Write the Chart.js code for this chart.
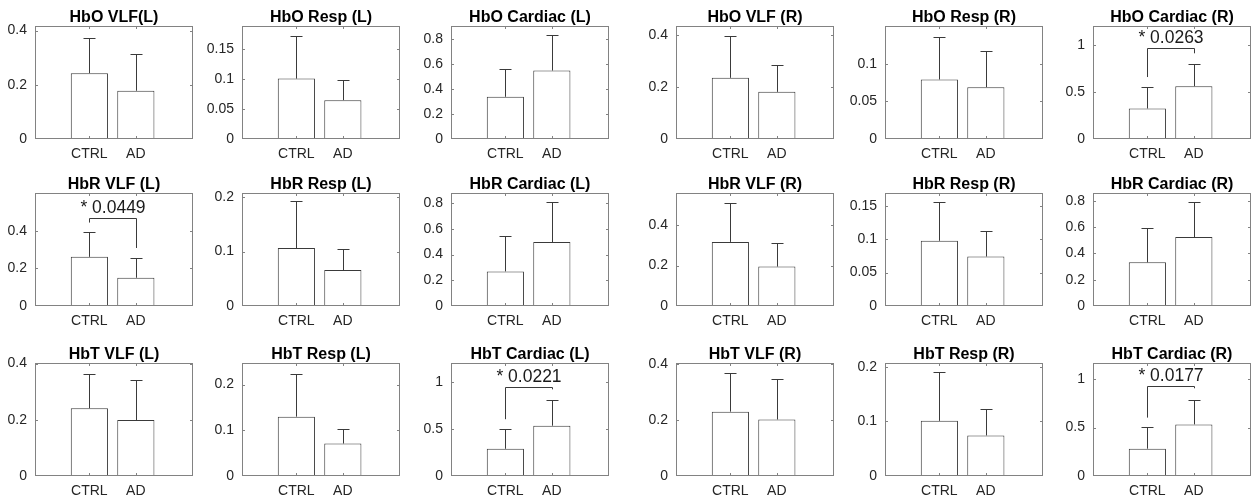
<!DOCTYPE html>
<html>
<head>
<meta charset="utf-8">
<script src="https://cdn.jsdelivr.net/npm/chart.js@4.4.1/dist/chart.umd.min.js"></script>
<style>
  html, body { margin: 0; padding: 0; background: #fff; }
  #wrap { position: relative; width: 1254px; height: 495px; overflow: hidden; }
  #wrap canvas { position: absolute; }
</style>
</head>
<body>
<div id="wrap"></div>
<script>
// ── data (row-major: HbO / HbR / HbT, columns VLF, Resp, Cardiac for L then R) ──
const groups = ['CTRL', 'AD'];

const titles = [
  'HbO VLF(L)', 'HbO Resp (L)', 'HbO Cardiac (L)', 'HbO VLF (R)', 'HbO Resp (R)', 'HbO Cardiac (R)',
  'HbR VLF (L)', 'HbR Resp (L)', 'HbR Cardiac (L)', 'HbR VLF (R)', 'HbR Resp (R)', 'HbR Cardiac (R)',
  'HbT VLF (L)', 'HbT Resp (L)', 'HbT Cardiac (L)', 'HbT VLF (R)', 'HbT Resp (R)', 'HbT Cardiac (R)',
];

const ctrlMean = [0.243, 0.101, 0.339, 0.235, 0.079, 0.324,
                  0.261, 0.1065, 0.269, 0.317, 0.0975, 0.332,
                  0.241, 0.1297, 0.289, 0.230, 0.101, 0.282];
const ctrlSd   = [0.131, 0.072, 0.222, 0.159, 0.057, 0.226,
                  0.132, 0.0855, 0.272, 0.195, 0.0575, 0.264,
                  0.123, 0.0937, 0.209, 0.140, 0.089, 0.223];
const adMean   = [0.178, 0.065, 0.550, 0.181, 0.0688, 0.561,
                  0.150, 0.066, 0.497, 0.195, 0.074, 0.524,
                  0.199, 0.071, 0.534, 0.202, 0.0743, 0.533];
const adSd     = [0.135, 0.034, 0.283, 0.105, 0.048, 0.238,
                  0.106, 0.039, 0.308, 0.119, 0.0385, 0.264,
                  0.141, 0.0316, 0.275, 0.146, 0.0477, 0.251];

const yMax = [0.417, 0.189, 0.908, 0.434, 0.150, 1.2,
              0.600, 0.2075, 0.878, 0.559, 0.169, 0.859,
              0.402, 0.247, 1.2, 0.404, 0.207, 1.167];

const yTicks = [
  [0, 0.2, 0.4], [0, 0.05, 0.1, 0.15], [0, 0.2, 0.4, 0.6, 0.8], [0, 0.2, 0.4], [0, 0.05, 0.1], [0, 0.5, 1],
  [0, 0.2, 0.4], [0, 0.1, 0.2], [0, 0.2, 0.4, 0.6, 0.8], [0, 0.2, 0.4], [0, 0.05, 0.1, 0.15], [0, 0.2, 0.4, 0.6, 0.8],
  [0, 0.2, 0.4], [0, 0.1, 0.2], [0, 0.5, 1], [0, 0.2, 0.4], [0, 0.1, 0.2], [0, 0.5, 1],
];

// significance brackets
const sigPanel   = [5, 6, 14, 17];
const sigText    = ['* 0.0263', '* 0.0449', '* 0.0221', '* 0.0177'];
const sigLineY   = [0.964, 0.467, 0.949, 0.930];
const sigCtrlLeg = [0.658, 0.443, 0.603, 0.603];
const sigAdLeg   = [0.910, 0.308, 0.920, 0.906];

// ── layout ──
const colLeft = [35, 242, 451, 676, 885, 1093];
const rowTop = [26, 193, 363];
const BOX_W = 158, BOX_H = 113;
const PAD_L = 35, PAD_T = 26, PAD_R = 4, PAD_B = 28;

const AXIS_GREY = '#828282';
const LINE_DARK = '#3a3a3a';
const FONT = '"Liberation Sans", Arial, sans-serif';

Chart.defaults.font.family = FONT;
Chart.defaults.color = '#262626';

const boxPlugin = {
  id: 'matlabBox',
  afterDatasetsDraw(chart, args, opts) {
    const { ctx, chartArea: a, scales } = chart;
    const i = opts.idx;
    const xs = scales.x, ys = scales.y;

    // error bars (upper only)
    ctx.save();
    ctx.strokeStyle = LINE_DARK;
    ctx.lineWidth = 1;
    [[ctrlMean[i], ctrlSd[i]], [adMean[i], adSd[i]]].forEach(([m, sd], j) => {
      const x = Math.round(xs.getPixelForValue(j + 1)) + 0.5;
      const y0 = ys.getPixelForValue(m);
      const y1 = Math.round(ys.getPixelForValue(m + sd)) + 0.5;
      ctx.beginPath();
      ctx.moveTo(x, y0);
      ctx.lineTo(x, y1);
      ctx.moveTo(x - 6, y1);
      ctx.lineTo(x + 6, y1);
      ctx.stroke();
    });

    // significance bracket
    const k = sigPanel.indexOf(i);
    if (k >= 0) {
      const xc = Math.round(xs.getPixelForValue(1)) + 0.5;
      const xa = Math.round(xs.getPixelForValue(2)) + 0.5;
      const yl = Math.round(ys.getPixelForValue(sigLineY[k])) + 0.5;
      ctx.beginPath();
      ctx.moveTo(xc, ys.getPixelForValue(sigCtrlLeg[k]));
      ctx.lineTo(xc, yl);
      ctx.lineTo(xa, yl);
      ctx.lineTo(xa, ys.getPixelForValue(sigAdLeg[k]));
      ctx.stroke();
      ctx.fillStyle = '#1a1a1a';
      ctx.font = '17.5px ' + FONT;
      ctx.textAlign = 'center';
      ctx.textBaseline = 'middle';
      ctx.fillText(sigText[k], (xc + xa) / 2, yl - 10);
    }

    // axes box with inward ticks
    ctx.strokeStyle = AXIS_GREY;
    ctx.strokeRect(a.left + 0.5, a.top + 0.5, a.right - a.left - 1, a.bottom - a.top - 1);
    ctx.beginPath();
    yTicks[i].forEach(v => {
      if (v === 0) return;
      const y = Math.round(ys.getPixelForValue(v)) + 0.5;
      ctx.moveTo(a.left, y); ctx.lineTo(a.left + 3, y);
      ctx.moveTo(a.right - 3, y); ctx.lineTo(a.right, y);
    });
    [1, 2].forEach(v => {
      const x = Math.round(xs.getPixelForValue(v)) + 0.5;
      ctx.moveTo(x, a.bottom); ctx.lineTo(x, a.bottom - 3);
      ctx.moveTo(x, a.top); ctx.lineTo(x, a.top + 3);
    });
    ctx.stroke();

    // title
    ctx.fillStyle = '#000';
    ctx.font = 'bold 16px ' + FONT;
    ctx.textAlign = 'center';
    ctx.textBaseline = 'middle';
    ctx.fillText(titles[i], (a.left + a.right) / 2, a.top - 8);
    ctx.restore();
  },
};

const wrap = document.getElementById('wrap');

titles.forEach((t, i) => {
  const r = Math.floor(i / 6), c = i % 6;
  const canvas = document.createElement('canvas');
  const w = PAD_L + BOX_W + PAD_R, h = PAD_T + BOX_H + PAD_B;
  canvas.width = w;
  canvas.height = h;
  canvas.style.width = w + 'px';
  canvas.style.height = h + 'px';
  canvas.style.left = (colLeft[c] - PAD_L) + 'px';
  canvas.style.top = (rowTop[r] - PAD_T) + 'px';
  wrap.appendChild(canvas);

  new Chart(canvas, {
    type: 'bar',
    data: {
      datasets: [{
        data: [{ x: 1, y: ctrlMean[i] }, { x: 2, y: adMean[i] }],
        backgroundColor: '#ffffff',
        borderColor: LINE_DARK,
        borderWidth: 1,
        borderSkipped: false,
        barPercentage: 0.8,
        categoryPercentage: 1,
      }],
    },
    options: {
      responsive: false,
      animation: false,
      devicePixelRatio: 1,
      layout: { padding: { left: 0, top: PAD_T, right: PAD_R, bottom: 0 } },
      plugins: { legend: { display: false }, tooltip: { enabled: false }, matlabBox: { idx: i } },
      scales: {
        x: {
          type: 'linear',
          offset: false,
          min: -0.17,
          max: 3.23,
          grid: { display: false, drawTicks: false, offset: false },
          border: { display: false },
          afterBuildTicks(s) { s.ticks = [{ value: 1 }, { value: 2 }]; },
          afterFit(s) { s.height = PAD_B; },
          ticks: {
            autoSkip: false,
            maxRotation: 0,
            padding: 7,
            font: { size: 14 },
            callback: (v, idx) => groups[idx],
          },
        },
        y: {
          min: 0,
          max: yMax[i],
          grid: { display: false, drawTicks: false },
          border: { display: false },
          afterBuildTicks(s) { s.ticks = yTicks[i].map(v => ({ value: v })); },
          afterFit(s) { s.width = PAD_L; },
          ticks: {
            padding: 8,
            font: { size: 14 },
            callback: v => String(v),
          },
        },
      },
    },
    plugins: [boxPlugin],
  });
});
</script>
</body>
</html>
